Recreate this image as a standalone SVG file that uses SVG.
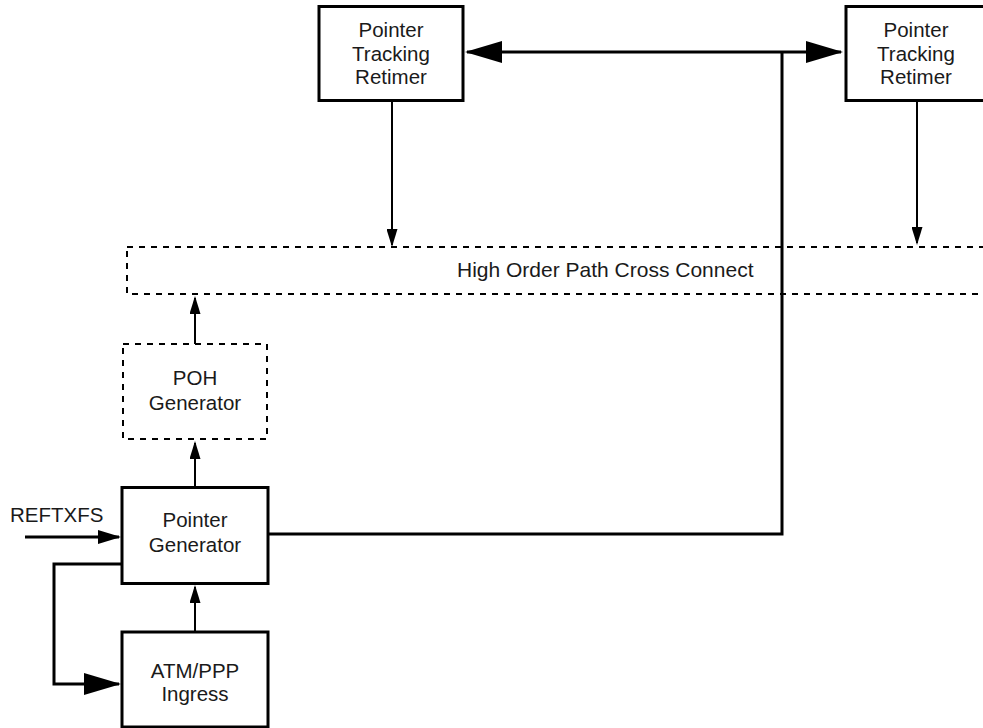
<svg xmlns="http://www.w3.org/2000/svg" width="983" height="728" viewBox="0 0 983 728">
<defs>
<style>
.box{fill:#fff;stroke:#000;stroke-width:3}
.dbox{fill:none;stroke:#000;stroke-width:2;stroke-dasharray:6 6}
.t{font-family:"Liberation Sans",Arial,sans-serif;font-size:20.5px;fill:#1a1a1a;text-anchor:middle}
.w{fill:none;stroke:#000;stroke-linejoin:miter}
</style>
<marker id="big" markerUnits="userSpaceOnUse" markerWidth="37" markerHeight="22" refX="35" refY="11" orient="auto-start-reverse"><path d="M0,0 L37,11 L0,22 z" fill="#000"/></marker>
<marker id="mid" markerUnits="userSpaceOnUse" markerWidth="23" markerHeight="14" refX="21" refY="7" orient="auto"><path d="M0,0 L23,7 L0,14 z" fill="#000"/></marker>
<marker id="sm" markerUnits="userSpaceOnUse" markerWidth="18" markerHeight="11" refX="16" refY="5.5" orient="auto"><path d="M0,0 L18,5.5 L0,11 z" fill="#000"/></marker>
</defs>
<rect width="983" height="728" fill="#fff"/>
<g id="connectors">
<path class="w" d="M467,52 H841" stroke-width="3" marker-start="url(#big)" marker-end="url(#big)"/>
<path class="w" d="M268,534 H782 V52" stroke-width="3"/>
<path class="w" d="M392,101 V245" stroke-width="2" marker-end="url(#sm)"/>
<path class="w" d="M917,101 V243" stroke-width="2" marker-end="url(#sm)"/>
<path class="w" d="M195,344 V298" stroke-width="2" marker-end="url(#sm)"/>
<path class="w" d="M195,487 V443" stroke-width="2" marker-end="url(#sm)"/>
<path class="w" d="M195,632 V587" stroke-width="2" marker-end="url(#sm)"/>
<path class="w" d="M25,537 H119" stroke-width="3" marker-end="url(#mid)"/>
<path class="w" d="M122,564 H54 V684 H119" stroke-width="3" marker-end="url(#big)"/>
</g>
<g id="ptr-left">
<rect class="box" x="319" y="6.5" width="144" height="94"/>
<text class="t" x="391" y="37">Pointer</text>
<text class="t" x="391" y="60.5">Tracking</text>
<text class="t" x="391" y="84">Retimer</text>
</g>
<g id="ptr-right">
<rect class="box" x="846" y="6.5" width="142" height="94"/>
<text class="t" x="916" y="37">Pointer</text>
<text class="t" x="916" y="60.5">Tracking</text>
<text class="t" x="916" y="84">Retimer</text>
</g>
<g id="hopcc">
<rect class="dbox" x="127" y="247" width="900" height="47"/>
<text class="t" x="457" y="277" style="text-anchor:start;font-size:21px">High Order Path Cross Connect</text>
</g>
<g id="poh">
<rect class="dbox" x="123" y="344" width="144" height="95"/>
<text class="t" x="195" y="385">POH</text>
<text class="t" x="195" y="410">Generator</text>
</g>
<g id="pg">
<rect class="box" x="122" y="487.5" width="146" height="96"/>
<text class="t" x="195" y="527">Pointer</text>
<text class="t" x="195" y="552">Generator</text>
</g>
<g id="atm">
<rect class="box" x="122" y="632" width="146" height="95"/>
<text class="t" x="195" y="678">ATM/PPP</text>
<text class="t" x="195" y="701">Ingress</text>
</g>
<g id="reftxfs">
<text class="t" x="10" y="522" style="text-anchor:start">REFTXFS</text>
</g>
</svg>
